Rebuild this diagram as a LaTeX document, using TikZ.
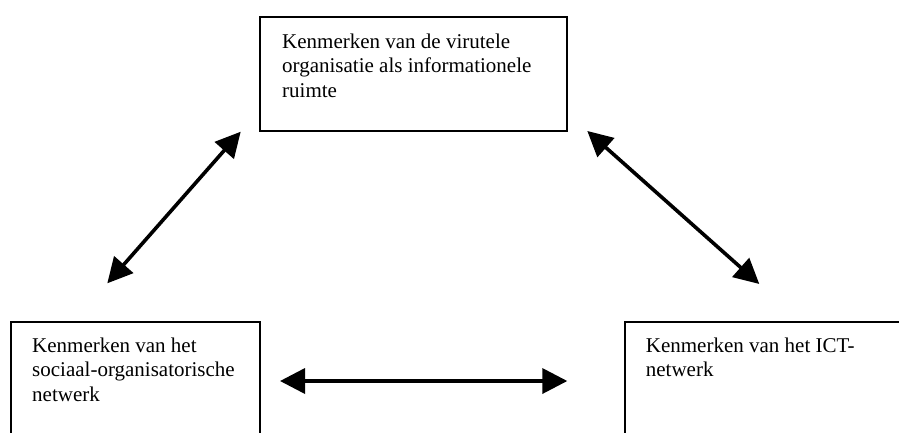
\documentclass[tikz,border=0pt]{standalone}
\usepackage{fontspec}
\setmainfont{Liberation Serif}
\usetikzlibrary{arrows.meta}
\begin{document}
\begin{tikzpicture}[x=1pt,y=-1pt,
  boxstyle/.style={draw, line width=1.3pt, rectangle, inner sep=0pt, outer sep=0pt},
  txt/.style={anchor=north west, inner sep=0pt, align=left, font=\fontsize{21}{24.8}\selectfont},
  dblarrow/.style={line width=3.6pt, {Triangle[length=25pt,width=25pt]}-{Triangle[length=25pt,width=25pt]}}]
\useasboundingbox (0,0) rectangle (899,432);
\clip (0,0) rectangle (899,432);
\node[boxstyle, minimum width=307pt, minimum height=114pt] (top) at (413.5,74) {};
\node[boxstyle, minimum width=249pt, minimum height=148pt] (left) at (135.5,396) {};
\node[boxstyle, minimum width=305pt, minimum height=148pt] (right) at (777.5,396) {};
\node[txt] (toptxt) at (282,33.4) {Kenmerken van de virutele\\organisatie als informationele\\ruimte};
\node[txt] (lefttxt) at (32,337.4) {Kenmerken van het\\sociaal-organisatorische\\netwerk};
\node[txt] (righttxt) at (645.7,337.4) {Kenmerken van het ICT-\\netwerk};
\coordinate (a1) at (240.7,131.7);
\coordinate (a2) at (107.3,283.3);
\coordinate (b1) at (587.3,131);
\coordinate (b2) at (759.3,284);
\coordinate (c1) at (280,381);
\coordinate (c2) at (567.3,381);
\draw[dblarrow] (a2) -- (a1);
\draw[dblarrow] (b1) -- (b2);
\draw[dblarrow] (c1) -- (c2);
\end{tikzpicture}
\end{document}
